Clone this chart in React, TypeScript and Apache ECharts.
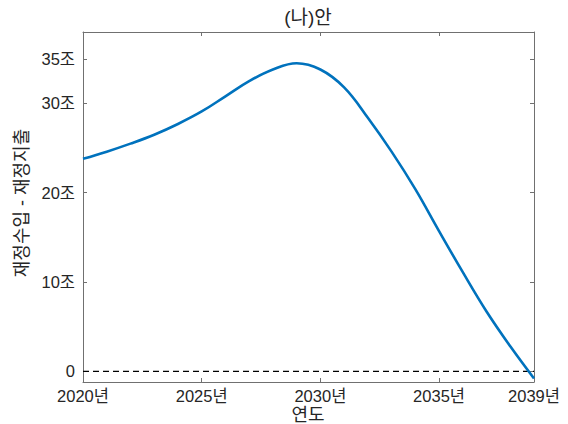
import React, { useEffect, useRef } from "react";
import * as echarts from "echarts";

const years = [2020, 2021, 2022, 2023, 2024, 2025, 2026, 2027, 2028, 2029, 2030, 2031, 2032, 2033, 2034, 2035, 2036, 2037, 2038, 2039];
const balance = [23.8, 24.6, 25.5, 26.5, 27.7, 29.1, 30.8, 32.5, 33.8, 34.5, 33.8, 31.8, 28.4, 24.6, 20.4, 15.7, 11.1, 6.7, 2.8, -0.8];
const zeroYears = [2020, 2039];
const zeroValues = [0, 0];
const xTickValues = [2020, 2025, 2030, 2035, 2039];
const yTickValues = [0, 10, 20, 30, 35];
const titleText = "(나)안";
const xName = "연도";
const yName = "재정수입 - 재정지출";

export default function App() {
  const ref = useRef<HTMLDivElement>(null);
  useEffect(() => {
    const chart = echarts.init(ref.current as HTMLDivElement, null, { renderer: "svg" });
    const font = "'Liberation Sans', 'Noto Sans CJK KR', sans-serif";
    const axisColor = "#707070";
    const textColor = "#262626";
    const xBase = {
      type: "value" as const,
      min: 2020,
      max: 2039,
      axisLine: { show: true, onZero: false, lineStyle: { color: axisColor, width: 1 } },
      axisTick: { show: true, inside: true, length: 4, customValues: xTickValues, lineStyle: { color: axisColor } },
      splitLine: { show: false },
    };
    const yBase = {
      type: "value" as const,
      min: -1.2,
      max: 38,
      axisLine: { show: true, onZero: false, lineStyle: { color: axisColor, width: 1 } },
      axisTick: { show: true, inside: true, length: 4, customValues: yTickValues, lineStyle: { color: axisColor } },
      splitLine: { show: false },
    };
    chart.setOption({
      animation: false,
      backgroundColor: "#ffffff",
      grid: { left: 83, right: 34, top: 32, bottom: 42, containLabel: false },
      xAxis: [
        {
          ...xBase,
          position: "bottom",
          axisLabel: {
            customValues: xTickValues,
            formatter: (v: number) => `${v}년`,
            color: textColor,
            fontSize: 16.5,
            fontFamily: font,
            margin: 6,
          },
        },
        { ...xBase, position: "top", axisLabel: { show: false } },
      ],
      yAxis: [
        {
          ...yBase,
          position: "left",
          axisLabel: {
            customValues: yTickValues,
            formatter: (v: number) => (v === 0 ? "0" : `${v}조`),
            color: textColor,
            fontSize: 16.5,
            fontFamily: font,
            margin: 8,
          },
        },
        { ...yBase, position: "right", axisLabel: { show: false } },
      ],
      graphic: [
        {
          type: "text",
          x: 308,
          y: 17,
          style: { text: titleText, fill: textColor, font: `19px ${font}`, align: "center", verticalAlign: "middle" },
        },
        {
          type: "text",
          x: 308,
          y: 415,
          style: { text: xName, fill: textColor, font: `18px ${font}`, align: "center", verticalAlign: "middle" },
        },
        {
          type: "text",
          x: 22,
          y: 203,
          rotation: Math.PI / 2,
          style: { text: yName, fill: textColor, font: `18px ${font}`, align: "center", verticalAlign: "middle" },
        },
      ],
      series: [
        {
          type: "line",
          data: zeroYears.map((y, i) => [y, zeroValues[i]]),
          showSymbol: false,
          lineStyle: { color: "#000000", width: 1.3, type: [6, 4] },
          silent: true,
        },
        {
          type: "line",
          data: years.map((y, i) => [y, balance[i]]),
          showSymbol: false,
          smooth: 0.4,
          lineStyle: { color: "#0072BD", width: 2.6 },
          silent: true,
        },
      ],
    });
    return () => chart.dispose();
  }, []);
  return <div ref={ref} style={{ position: "absolute", left: 0, top: 0, width: 568, height: 424 }} />;
}
